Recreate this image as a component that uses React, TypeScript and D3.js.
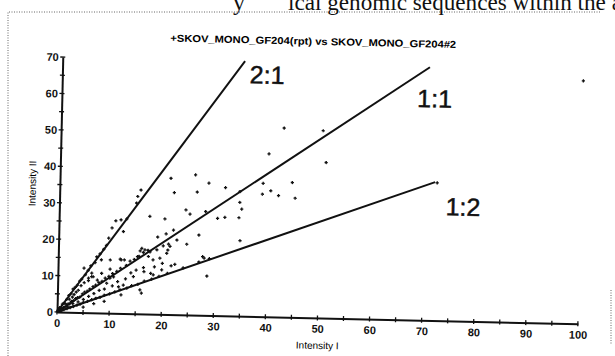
import React, { useEffect, useRef } from 'react'
import * as d3 from 'd3'

// chart texts
const TITLE = '+SKOV_MONO_GF204(rpt) vs SKOV_MONO_GF204#2'
const X_LABEL = 'Intensity I'
const Y_LABEL = 'Intensity II'
const PAGE_TEXT = ['y', 'ical genomic sequences within the a']

// ticks
const X_TICKS = [0, 10, 20, 30, 40, 50, 60, 70, 80, 90, 100]
const X_MINOR = [5, 15, 25, 35, 45, 55, 65, 75, 85, 95]
const Y_TICKS = [0, 10, 20, 30, 40, 50, 60, 70]
const Y_MINOR = [5, 15, 25, 35, 45, 55, 65]

// reference lines (name, end point in data units)
const RATIO_NAMES = ['2:1', '1:1', '1:2']
const RATIO_ENDS = [[35, 70], [70.5, 69.5], [72, 38]]

// points close to the origin
const POINTS_CORE = [
  [0.2, 0.3], [0.3, 0.2], [0.4, 0.5], [0.5, 0.3], [0.7, 0.4], [0.3, 0.6], [0.6, 1], [1, 0.6],
  [0.5, 1.2], [1, 2.2], [1.3, 2.4], [1.8, 3.5], [2.2, 4.6], [2.6, 5.1], [3, 6.4], [3.4, 6.9],
  [3.8, 7.5], [4.2, 8.6], [4.6, 9.2], [5.3, 10.4], [5.8, 11.6], [6.3, 12.9], [7.1, 13.8],
  [8, 16.2], [8.7, 17.5], [9.2, 18.6],
  [0.6, 0.7], [0.9, 1], [1.2, 1.3], [1.5, 1.4], [1.8, 2], [2.1, 2.3], [2.4, 2.3], [2.7, 3],
  [3.1, 3.2], [3.5, 3.8], [3.9, 4.1], [4.3, 4.2], [4.8, 5.1], [5.2, 5.6], [5.7, 5.9], [6.2, 6.5],
  [6.8, 7.2], [7.3, 7.6], [7.9, 8.3], [8.5, 8.7], [9.1, 9.6], [9.8, 10.1], [10.5, 10.9],
  [11.3, 11.5], [12, 12.4], [13.1, 13.2], [13.8, 14.4], [14.6, 14.9], [15.5, 15.8], [16.3, 16.9],
  [17.2, 17.5],
  [1.5, 2.4], [2.3, 3.6], [3.2, 4.9], [4, 6.1], [4.5, 7.4], [5.1, 8.2], [5.9, 8.8], [6.5, 9.9],
  [3.6, 5.6], [2.9, 4.2],
  [0.8, 0.5], [1.3, 0.7], [1.9, 1], [2.5, 1.3], [3.1, 1.6], [3.8, 2], [4.4, 2.3], [5, 2.8],
  [5.8, 3.1], [6.6, 3.6], [7.4, 4], [8.2, 4.3], [9, 4.9], [10, 5.3], [11, 5.9], [12, 6.5],
  [13.3, 7], [14.2, 7.7], [15.4, 8.1], [16.6, 9], [18, 9.6], [19.4, 10.4], [21, 11.3],
  [24, 12.9], [27, 14.6], [29, 15.6],
  [2, 1.5], [3, 2.4], [4, 2.9], [5, 3.6], [6, 4.5], [7, 5.3], [8, 6.2], [9, 6.6], [10.5, 7.5],
  [11.5, 8.7], [13, 9.5], [14, 11.2], [15, 12], [16.5, 11.6], [18.5, 13], [20, 14],
  [5, 1.5], [7, 2.5], [9, 3.2]
]

// points spread out between the lines
const POINTS_SPREAD = [
  [40, 44.7], [26, 38.5], [21.3, 37.4], [28.6, 36.3], [31.8, 35.2], [39, 36.6], [44.6, 37],
  [22, 33.5], [26.4, 33.8], [34.6, 34.2], [38.9, 33.6], [40.5, 34.6], [42, 33.3], [45.2, 32.7],
  [15.6, 34], [15, 32.2], [14.8, 30.4], [10.9, 25.4], [11.9, 25.7], [13, 26], [17.4, 26.8],
  [20.3, 26.2], [24.3, 28.8], [25.1, 27.7], [28.1, 28.5], [30.4, 26.7], [31.8, 27], [34.5, 27],
  [34.6, 31.2], [35, 29.4], [10.2, 23.4], [12.4, 22.5], [9.6, 20.6], [19, 21.2], [20.6, 22.1],
  [22, 23.2], [22.7, 20.5], [24.6, 19.4], [26.9, 22], [34.8, 20.7], [21.1, 19.3], [21, 17.7],
  [21.4, 18.7], [20.1, 18.8], [16, 18], [15.7, 17.3], [16.6, 17.6], [17.6, 17.1], [18.9, 17.7],
  [15.2, 15.7], [17.3, 15.8], [18.2, 14.9], [19.5, 15.4], [20.8, 16.8], [22.4, 13.8], [28, 15.7],
  [27.7, 16.1], [28.6, 10.8], [21.7, 13.4], [19.9, 12.2], [17.8, 11.2], [18.3, 10.8],
  [16.4, 12.7], [14.5, 10.2], [15.8, 6.6], [16.1, 5.7], [12.2, 5.1], [12.6, 7.8], [11.7, 7.3],
  [11.9, 14.9], [12.1, 14.7], [12.7, 14.7], [10, 14.6], [8.3, 14.6], [10, 12.1], [8.4, 10.9],
  [7.6, 9], [7.4, 15.4], [5, 12.2], [6.5, 10.9], [6.8, 9.9], [5.9, 9.5], [10, 9.6], [10.7, 10],
  [9.4, 8.2]
]

// few isolated points
const POINTS_OUTLIERS = [
  [42.8, 51.9], [50.3, 51.4], [51, 42.7], [72.4, 37.8], [100, 66.7]
]

const width = 615
const height = 356
const margin = { top: 57, right: 37, bottom: 44, left: 57 }
const tilt = 1.3 // the scanned page is a bit rotated

const App = () => {
  const svgRef = useRef<SVGSVGElement>(null)

  useEffect(() => {
    const svg = d3.select(svgRef.current)
    svg.selectAll('*').remove()

    const x = d3.scaleLinear().domain([0, 100]).range([margin.left, width - margin.right])
    const y = d3.scaleLinear().domain([0, 70]).range([height - margin.bottom, margin.top])
    const x0 = x(0)
    const y0 = y(0)

    // dotted frame of the figure
    svg.append('path')
      .attr('d', `M8,356V12H600M611,290V345`)
      .attr('fill', 'none')
      .attr('stroke', '#666')
      .attr('stroke-dasharray', '1 1.5')

    // cut-off text of the page above
    svg.append('text')
      .attr('x', 233).attr('y', 10)
      .attr('font-family', 'Liberation Serif').attr('font-size', 24).attr('fill', '#111')
      .text(PAGE_TEXT[0])
    svg.append('text')
      .attr('x', 288).attr('y', 10)
      .attr('font-family', 'Liberation Serif').attr('font-size', 24).attr('fill', '#111')
      .attr('textLength', 334).attr('lengthAdjust', 'spacingAndGlyphs')
      .text(PAGE_TEXT[1])

    const g = svg.append('g').attr('transform', `rotate(${tilt} ${x0} ${y0})`)

    g.append('text')
      .attr('x', 164).attr('y', 39)
      .attr('font-family', 'Liberation Sans').attr('font-size', 10).attr('font-weight', 'bold')
      .attr('textLength', 286).attr('lengthAdjust', 'spacingAndGlyphs')
      .text(TITLE)

    // axes
    const xAxis = g.append('g')
      .attr('transform', `translate(0,${y0})`)
      .call(d3.axisBottom(x).tickValues(X_TICKS).tickSize(0).tickPadding(7))
    const yAxis = g.append('g')
      .attr('transform', `translate(${x0},0)`)
      .call(d3.axisLeft(y).tickValues(Y_TICKS).tickSize(0).tickPadding(4))
    ;[xAxis, yAxis].forEach(a => {
      a.attr('font-family', 'Liberation Sans').attr('font-size', 11).attr('font-weight', 'bold')
      a.select('.domain').attr('stroke', '#111').attr('stroke-width', 2)
      a.selectAll('text').attr('fill', '#111')
    })

    g.selectAll('.xtick')
      .data([...X_TICKS, ...X_MINOR])
      .enter().append('line')
      .attr('x1', d => x(d)).attr('x2', d => x(d))
      .attr('y1', y0 - 2.5).attr('y2', y0 + 2.5)
      .attr('stroke', '#111').attr('stroke-width', 1.3)
    g.selectAll('.ytick')
      .data([...Y_TICKS, ...Y_MINOR])
      .enter().append('line')
      .attr('y1', d => y(d)).attr('y2', d => y(d))
      .attr('x1', x0 - 2.5).attr('x2', x0 + 2.5)
      .attr('stroke', '#111').attr('stroke-width', 1.3)

    g.append('text')
      .attr('x', 318).attr('y', 343)
      .attr('text-anchor', 'middle')
      .attr('font-family', 'Liberation Sans').attr('font-size', 10)
      .text(X_LABEL)
    g.append('text')
      .attr('transform', `translate(33,184) rotate(-90)`)
      .attr('text-anchor', 'middle')
      .attr('font-family', 'Liberation Sans').attr('font-size', 10)
      .text(Y_LABEL)

    // ratio lines
    const line = d3.line<number[]>().x(d => x(d[0])).y(d => y(d[1]))
    g.selectAll('.ratio')
      .data(RATIO_ENDS)
      .enter().append('path')
      .attr('d', d => line([[0, 0], d]))
      .attr('stroke', '#111').attr('stroke-width', 2).attr('fill', 'none')

    const labelOffsets = [[5, 22], [-12, 40], [11, 33]]
    g.selectAll('.ratio-label')
      .data(RATIO_NAMES)
      .enter().append('text')
      .attr('x', (d, i) => x(RATIO_ENDS[i][0]) + labelOffsets[i][0])
      .attr('y', (d, i) => y(RATIO_ENDS[i][1]) + labelOffsets[i][1])
      .attr('font-family', 'Liberation Sans').attr('font-size', 25)
      .attr('fill', '#111').attr('stroke', '#111').attr('stroke-width', 0.5)
      .text(d => d)

    // points
    g.selectAll('.pt')
      .data([...POINTS_CORE, ...POINTS_SPREAD, ...POINTS_OUTLIERS])
      .enter().append('path')
      .attr('transform', d => `translate(${x(d[0])},${y(d[1])})`)
      .attr('d', 'M-1.6,0H1.6M0,-1.6V1.6')
      .attr('stroke', '#111').attr('stroke-width', 1.3)
  }, [])

  return (
    <svg ref={svgRef} width={width} height={height}
      style={{ position: 'absolute', left: 0, top: 0, background: '#fff' }} />
  )
}

export default App
